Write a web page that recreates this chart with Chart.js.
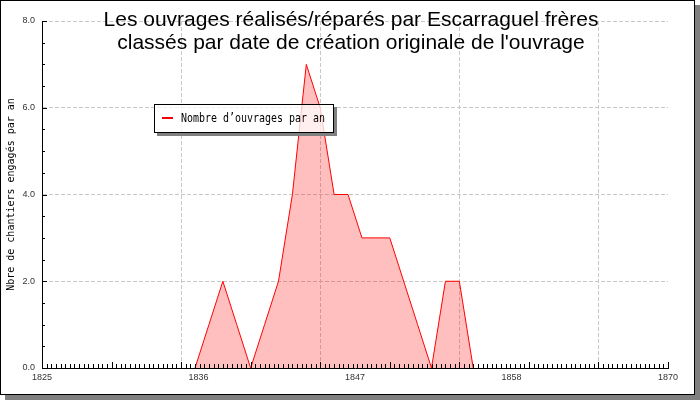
<!DOCTYPE html>
<html><head><meta charset="utf-8">
<script src="https://cdn.jsdelivr.net/npm/chart.js@4/dist/chart.umd.min.js"></script>
<style>
html,body{margin:0;padding:0;background:#fff;}
#frame{position:absolute;left:0;top:0;width:693px;height:393px;border:1px solid #000;box-shadow:5px 5px 0 #808080;background:#fff;}
#c{position:absolute;left:0;top:0;}
</style></head><body>
<div id="frame"></div>
<canvas id="c" width="700" height="400"></canvas>
<script>
const TITLE_LINES = ["Les ouvrages réalisés/réparés par Escarraguel frères", "classés par date de création originale de l'ouvrage"];
const SERIES_LABEL = "Nombre d’ouvrages par an";
const Y_TITLE = "Nbre de chantiers engagés par an";
const YEARS  = [1836,1837,1838,1839,1840,1841,1842,1843,1844,1845,1846,1847,1848,1849,1850,1851,1852,1853,1854,1855,1856];
const COUNTS = [0,   1,   2,   1,   0,   1,   2,   4,   7,   6,   4,   4,   3,   3,   3,   2,   1,   0,   2,   2,   0];
const X_MIN = 1825, X_MAX = 1870;
const X_TICK_VALUES = [1825, 1836.25, 1847.5, 1858.75, 1870];
const X_TICK_LABELS = ["1825", "1836", "1847", "1858", "1870"];
const X_GRID = [1835, 1845, 1855, 1865];
const Y_MIN = 0, Y_MAX = 8;
const Y_TICK_VALUES = [0, 2, 4, 6, 8];
const Y_TICK_LABELS = ["0.0", "2.0", "4.0", "6.0", "8.0"];

const decor = {
  id: 'decor',
  beforeDatasetsDraw(chart) {
    const {ctx, chartArea: a, scales: {x}} = chart;
    ctx.save();
    ctx.strokeStyle = '#c8c8c8'; ctx.lineWidth = 1; ctx.setLineDash([4, 2]);
    X_GRID.forEach(v => {
      const px = Math.round(x.getPixelForValue(v)) + 0.5;
      ctx.beginPath(); ctx.moveTo(px, a.top); ctx.lineTo(px, a.bottom); ctx.stroke();
    });
    ctx.restore();
  },
  afterDatasetsDraw(chart) {
    const {ctx, chartArea: a, scales: {x, y}} = chart;
    ctx.save();
    // legend
    const L = 154, T = 104, W = 179, H = 28;
    ctx.fillStyle = '#808080';
    ctx.fillRect(L + W + 1, T + 3, 3, H + 1);
    ctx.fillRect(L + 3, T + H + 1, W + 1, 3);
    ctx.fillStyle = 'rgba(255,255,255,0.75)';
    ctx.fillRect(L, T, W, H);
    ctx.strokeStyle = '#000'; ctx.lineWidth = 1;
    ctx.strokeRect(L + 0.5, T + 0.5, W, H);
    const ds = chart.data.datasets[0];
    ctx.strokeStyle = ds.borderColor; ctx.lineWidth = 2;
    ctx.beginPath(); ctx.moveTo(162, 118); ctx.lineTo(173, 118); ctx.stroke();
    ctx.fillStyle = '#000';
    ctx.font = '12px "DejaVu Sans Mono"';
    ctx.textBaseline = 'alphabetic'; ctx.textAlign = 'left';
    ctx.fillText(ds.label, 181, 122, 144);
    // tick marks
    ctx.strokeStyle = '#000'; ctx.lineWidth = 1;
    const bot = Math.round(a.bottom);
    for (let i = 0; i <= (X_MAX - X_MIN) * 3; i++) {
      const v = X_MIN + i / 3;
      const px = Math.round(x.getPixelForValue(v)) + 0.5;
      const len = (i % 15 === 0) ? 6 : 4;
      ctx.beginPath(); ctx.moveTo(px, bot); ctx.lineTo(px, bot - len); ctx.stroke();
    }
    const left = Math.round(a.left);
    for (let v = Y_MIN; v <= Y_MAX; v += 0.5) {
      const py = Math.round(y.getPixelForValue(v)) + 0.5;
      const len = (v % 2 === 0) ? 5 : 3;
      ctx.beginPath(); ctx.moveTo(left, py); ctx.lineTo(left + len, py); ctx.stroke();
    }
    ctx.restore();
  },
  afterDraw(chart) {
    const {ctx} = chart;
    ctx.save();
    ctx.fillStyle = '#000';
    ctx.font = '21px "Liberation Sans"';
    ctx.textAlign = 'center'; ctx.textBaseline = 'alphabetic';
    ctx.fillText(TITLE_LINES[0], 351, 26);
    ctx.fillText(TITLE_LINES[1], 351, 49);
    ctx.restore();
  }
};

new Chart(document.getElementById('c'), {
  type: 'line',
  data: {
    datasets: [{
      label: SERIES_LABEL,
      data: YEARS.map((yr, i) => ({x: yr, y: COUNTS[i]})),
      borderColor: '#ff0000',
      borderWidth: 1,
      backgroundColor: 'rgba(255,0,0,0.25)',
      fill: 'origin',
      pointRadius: 0,
      tension: 0
    }]
  },
  options: {
    responsive: false, animation: false, devicePixelRatio: 1,
    layout: {padding: {left: 0, top: 21, right: 32, bottom: 0}},
    plugins: {legend: {display: false}, title: {display: false}, tooltip: {enabled: false}},
    scales: {
      x: {
        type: 'linear', min: X_MIN, max: X_MAX,
        afterBuildTicks: s => { s.ticks = X_TICK_VALUES.map(v => ({value: v})); },
        afterFit: s => { s.height = 32; },
        grid: {display: false, drawTicks: false},
        border: {display: true, color: '#000', width: 1},
        ticks: {autoSkip: false, maxRotation: 0, padding: 4, color: '#333',
                font: {family: 'Liberation Sans', size: 9},
                callback: (v, i) => X_TICK_LABELS[i]}
      },
      y: {
        min: Y_MIN, max: Y_MAX,
        afterBuildTicks: s => { s.ticks = Y_TICK_VALUES.map(v => ({value: v})); },
        afterFit: s => { s.width = 42; },
        grid: {display: true, drawTicks: false, lineWidth: 1,
               color: c => (c.tick && c.tick.value === 0) ? 'rgba(0,0,0,0)' : '#c8c8c8'},
        border: {display: true, color: '#000', width: 1, dash: [4, 2]},
        ticks: {padding: 7, color: '#333', font: {family: 'Liberation Sans', size: 9},
                callback: (v, i) => Y_TICK_LABELS[i]},
        title: {display: true, text: Y_TITLE, color: '#000',
                font: {family: 'DejaVu Sans Mono', size: 10}, padding: {top: 5, bottom: 0}}
      }
    }
  },
  plugins: [decor]
});
</script>
</body></html>
